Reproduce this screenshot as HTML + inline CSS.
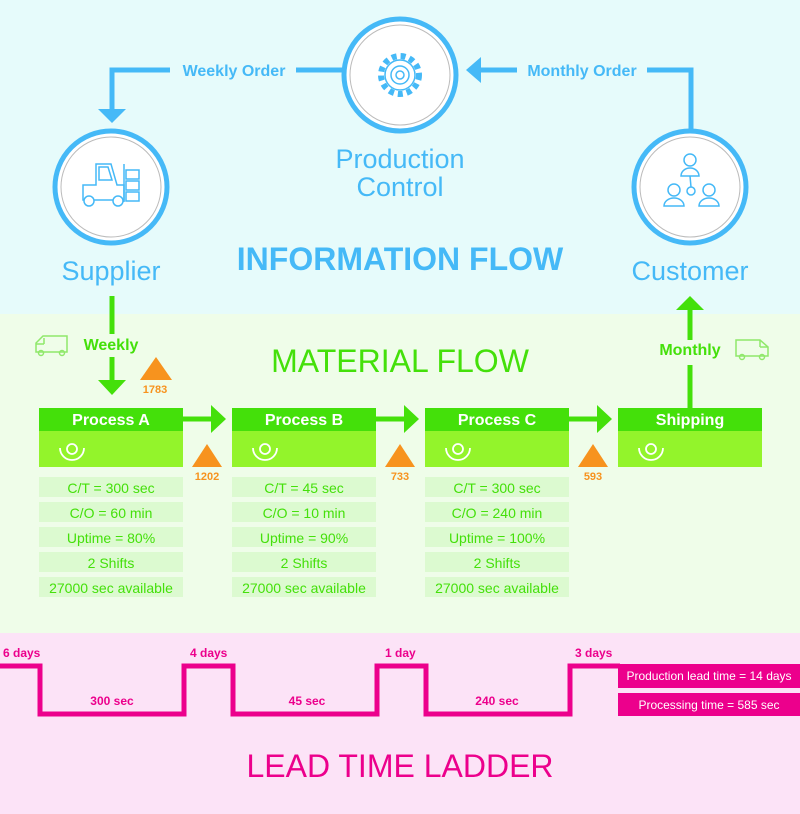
<!DOCTYPE html>
<html><head><meta charset="utf-8"><style>
html,body{margin:0;padding:0;width:800px;height:814px;overflow:hidden}
svg{display:block}
text{font-family:"Liberation Sans",sans-serif}
</style></head><body>
<svg width="800" height="814" viewBox="0 0 800 814" xmlns="http://www.w3.org/2000/svg">
<rect x="0" y="0" width="800" height="314" fill="#e6fbfb"/>
<rect x="0" y="314" width="800" height="319" fill="#effde9"/>
<rect x="0" y="633" width="800" height="181" fill="#fce3f7"/>

<!-- info flow connectors -->
<g stroke="#45b9f7" stroke-width="5" fill="none">
<polyline points="170,70 112,70 112,110"/>
<line x1="296" y1="70" x2="342" y2="70"/>
<line x1="481" y1="70" x2="517" y2="70"/>
<polyline points="647,70 691,70 691,130"/>
</g>
<polygon points="98,109 126,109 112,123" fill="#45b9f7"/>
<polygon points="466,70 481,57 481,83" fill="#45b9f7"/>
<text x="234" y="76" font-size="16" font-weight="bold" fill="#45b9f7" text-anchor="middle">Weekly Order</text>
<text x="582" y="76" font-size="16" font-weight="bold" fill="#45b9f7" text-anchor="middle">Monthly Order</text>

<!-- circles -->
<g fill="#fff" stroke="#45b9f7" stroke-width="5">
<circle cx="400" cy="75" r="56"/>
<circle cx="111" cy="187" r="56"/>
<circle cx="690" cy="187" r="56"/>
</g>
<g fill="none" stroke="#bbb" stroke-width="1">
<circle cx="400" cy="75" r="50"/>
<circle cx="111" cy="187" r="50"/>
<circle cx="690" cy="187" r="50"/>
</g>
<!-- gear -->
<g fill="none" stroke="#45b9f7" stroke-width="1.5">
<circle cx="400" cy="75" r="19" stroke-dasharray="5 4" stroke-width="6"/>
<circle cx="400" cy="75" r="15"/>
<circle cx="400" cy="75" r="9"/>
<circle cx="400" cy="75" r="4"/>
</g>
<!-- forklift -->
<g fill="none" stroke="#45b9f7" stroke-width="1.5">
<path d="M83,200 V185 H96 V164 H111 L117,185 H124 V200 Z"/>
<path d="M99,167 H108 L112,180 H99 Z"/>
<line x1="124" y1="164" x2="124" y2="202"/>
<rect x="126" y="170" width="13" height="9"/><rect x="126" y="181" width="13" height="9"/><rect x="126" y="192" width="13" height="9"/>
<circle cx="89" cy="201" r="5" fill="#fff"/><circle cx="118" cy="201" r="5" fill="#fff"/>
</g>
<!-- people -->
<g fill="none" stroke="#45b9f7" stroke-width="1.5">
<circle cx="690" cy="160" r="6"/><path d="M681,176 a9,8 0 0 1 18,0 z"/>
<circle cx="674" cy="190" r="6"/><path d="M664,206 a10,8 0 0 1 20,0 z"/>
<circle cx="709" cy="190" r="6"/><path d="M699,206 a10,8 0 0 1 20,0 z"/>
<circle cx="691" cy="191" r="4"/><line x1="690" y1="176" x2="691" y2="187"/>
</g>

<g fill="#45b9f7" font-size="27" text-anchor="middle">
<text x="400" y="168">Production</text>
<text x="400" y="196">Control</text>
<text x="111" y="280">Supplier</text>
<text x="690" y="280">Customer</text>
</g>
<text x="400" y="270" font-size="32" font-weight="bold" fill="#45b9f7" text-anchor="middle">INFORMATION FLOW</text>

<!-- material flow -->
<g stroke="#44e00a" stroke-width="5" fill="none">
<line x1="112" y1="296" x2="112" y2="334"/>
<line x1="112" y1="357" x2="112" y2="382"/>
<line x1="690" y1="408" x2="690" y2="365"/>
<line x1="690" y1="340" x2="690" y2="310"/>
<line x1="183" y1="419" x2="212" y2="419"/>
<line x1="376" y1="419" x2="405" y2="419"/>
<line x1="569" y1="419" x2="598" y2="419"/>
</g>
<g fill="#44e00a">
<polygon points="98,380 126,380 112,395"/>
<polygon points="676,310 704,310 690,296"/>
<polygon points="211,405 226,419 211,433"/>
<polygon points="404,405 419,419 404,433"/>
<polygon points="597,405 612,419 597,433"/>
</g>
<text x="111" y="350" font-size="16" font-weight="bold" fill="#44e00a" text-anchor="middle">Weekly</text>
<text x="690" y="355" font-size="16" font-weight="bold" fill="#44e00a" text-anchor="middle">Monthly</text>
<text x="400" y="372" font-size="32" fill="#44e00a" text-anchor="middle">MATERIAL FLOW</text>
<!-- trucks -->
<g fill="none" stroke="#8fe86a" stroke-width="1.5">
<path d="M36,352 V343 L43,336 H67 V352 Z"/><line x1="44" y1="338" x2="44" y2="344"/><line x1="36" y1="344" x2="44" y2="344"/>
<circle cx="41" cy="353" r="2.5"/><circle cx="62" cy="353" r="2.5"/>
<path d="M736,356 V340 H760 L768,347 V356 Z"/><line x1="760" y1="340" x2="760" y2="347"/><line x1="760" y1="347" x2="768" y2="347"/>
<circle cx="742" cy="357" r="2.5"/><circle cx="762" cy="357" r="2.5"/>
</g>

<!-- boxes -->
<g>
<rect x="39" y="408" width="144" height="23" fill="#44e00a"/><rect x="39" y="431" width="144" height="36" fill="#93f42b"/>
<rect x="232" y="408" width="144" height="23" fill="#44e00a"/><rect x="232" y="431" width="144" height="36" fill="#93f42b"/>
<rect x="425" y="408" width="144" height="23" fill="#44e00a"/><rect x="425" y="431" width="144" height="36" fill="#93f42b"/>
<rect x="618" y="408" width="144" height="23" fill="#44e00a"/><rect x="618" y="431" width="144" height="36" fill="#93f42b"/>
</g>
<g fill="#fff" font-size="16" font-weight="bold" text-anchor="middle">
<text x="111" y="425">Process A</text><text x="304" y="425">Process B</text><text x="497" y="425">Process C</text><text x="690" y="425">Shipping</text>
</g>
<g fill="none" stroke="#fff" stroke-width="1.8">
<circle cx="72" cy="449" r="5"/><path d="M60,448 a12,12 0 0 0 24,0"/>
<circle cx="265" cy="449" r="5"/><path d="M253,448 a12,12 0 0 0 24,0"/>
<circle cx="458" cy="449" r="5"/><path d="M446,448 a12,12 0 0 0 24,0"/>
<circle cx="651" cy="449" r="5"/><path d="M639,448 a12,12 0 0 0 24,0"/>
</g>

<!-- inventory triangles -->
<g fill="#f7931e">
<polygon points="156,357 172,380 140,380"/>
<polygon points="207,444 222,467 192,467"/>
<polygon points="400,444 415,467 385,467"/>
<polygon points="593,444 608,467 578,467"/>
</g>
<g fill="#f7931e" font-size="11" font-weight="bold" text-anchor="middle">
<text x="155" y="393">1783</text><text x="207" y="480">1202</text><text x="400" y="480">733</text><text x="593" y="480">593</text>
</g>

<!-- data rows -->
<g fill="#dcfad0">
<rect x="39" y="477" width="144" height="20"/><rect x="39" y="502" width="144" height="20"/><rect x="39" y="527" width="144" height="20"/><rect x="39" y="552" width="144" height="20"/><rect x="39" y="577" width="144" height="20"/>
<rect x="232" y="477" width="144" height="20"/><rect x="232" y="502" width="144" height="20"/><rect x="232" y="527" width="144" height="20"/><rect x="232" y="552" width="144" height="20"/><rect x="232" y="577" width="144" height="20"/>
<rect x="425" y="477" width="144" height="20"/><rect x="425" y="502" width="144" height="20"/><rect x="425" y="527" width="144" height="20"/><rect x="425" y="552" width="144" height="20"/><rect x="425" y="577" width="144" height="20"/>
</g>
<g fill="#44e00a" font-size="14" text-anchor="middle">
<text x="111" y="493">C/T = 300 sec</text><text x="111" y="518">C/O = 60 min</text><text x="111" y="543">Uptime = 80%</text><text x="111" y="568">2 Shifts</text><text x="111" y="593">27000 sec available</text>
<text x="304" y="493">C/T = 45 sec</text><text x="304" y="518">C/O = 10 min</text><text x="304" y="543">Uptime = 90%</text><text x="304" y="568">2 Shifts</text><text x="304" y="593">27000 sec available</text>
<text x="497" y="493">C/T = 300 sec</text><text x="497" y="518">C/O = 240 min</text><text x="497" y="543">Uptime = 100%</text><text x="497" y="568">2 Shifts</text><text x="497" y="593">27000 sec available</text>
</g>

<!-- ladder -->
<polyline points="0,666 40,666 40,714 184,714 184,666 233,666 233,714 377,714 377,666 426,666 426,714 570,714 570,666 620,666" fill="none" stroke="#ec008c" stroke-width="5"/>
<g fill="#ec008c" font-size="12" font-weight="bold">
<text x="3" y="657">6 days</text><text x="190" y="657">4 days</text><text x="385" y="657">1 day</text><text x="575" y="657">3 days</text>
<text x="112" y="705" text-anchor="middle">300 sec</text><text x="307" y="705" text-anchor="middle">45 sec</text><text x="497" y="705" text-anchor="middle">240 sec</text>
</g>
<rect x="618" y="664" width="182" height="24" fill="#ec008c"/>
<rect x="618" y="693" width="182" height="23" fill="#ec008c"/>
<g fill="#fff" font-size="12" text-anchor="middle">
<text x="709" y="680">Production lead time = 14 days</text>
<text x="709" y="709">Processing time = 585 sec</text>
</g>
<text x="400" y="777" font-size="32" fill="#ec008c" text-anchor="middle">LEAD TIME LADDER</text>
</svg>
</body></html>
